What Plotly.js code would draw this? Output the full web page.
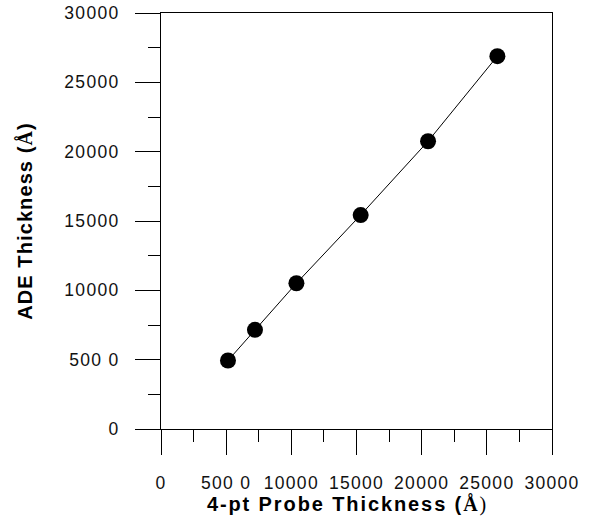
<!DOCTYPE html>
<html>
<head>
<meta charset="utf-8">
<script src="https://cdn.plot.ly/plotly-3.0.1.min.js"></script>
<style>
  html, body { margin: 0; padding: 0; background: #fff; }
  #chart { width: 590px; height: 527px; }
  .xtick text, .ytick text { letter-spacing: 1.3px; }
  .xtitle { letter-spacing: 1.9px; transform: translateX(-9px); }
  .ytitle { letter-spacing: 1.1px; }
</style>
</head>
<body>
<div id="chart"></div>
<script>
// Data
const probeThickness = [5140, 7210, 10390, 15320, 20490, 25810];
const adeThickness   = [4940, 7150, 10510, 15430, 20750, 26890];

const tickValues = [0, 5000, 10000, 15000, 20000, 25000, 30000];
const xTickLabels = ["0", "500 0", "10000", "15000", "20000", "25000", "30000"];
const yTickLabels = ["0", "500 0", "10000", "15000", "20000", "25000", "30000"];

const xTitle = "4-pt Probe Thickness (<span style=\"font-family:'Liberation Serif'\">Å</span><span style=\"font-family:'Liberation Serif';font-weight:normal\">)</span>";
const yTitle = "ADE Thickness (<span style=\"font-family:'Liberation Serif'\">Å</span>)";

const trace = {
  x: probeThickness,
  y: adeThickness,
  type: 'scatter',
  mode: 'lines+markers',
  line: { color: '#000', width: 1 },
  marker: { color: '#000', size: 16 },
  hoverinfo: 'x+y'
};

const axisCommon = {
  range: [0, 30000],
  tickmode: 'array',
  tickvals: tickValues,
  ticks: 'outside',
  ticklen: 25,
  tickwidth: 1,
  tickcolor: '#000',
  showline: true,
  linecolor: '#000',
  linewidth: 1,
  mirror: true,
  showgrid: false,
  zeroline: false,
  tickfont: { family: 'Liberation Sans, Arial, sans-serif', size: 17.5, color: '#111' },
  minor: { dtick: 2500, ticks: 'outside', ticklen: 12, tickwidth: 1, tickcolor: '#000', showgrid: false }
};

const layout = {
  width: 590,
  height: 527,
  paper_bgcolor: '#fff',
  plot_bgcolor: '#fff',
  showlegend: false,
  margin: { l: 161, r: 38, t: 13, b: 98 },
  xaxis: Object.assign({}, axisCommon, {
    ticktext: xTickLabels,
    ticklabelstandoff: 13,
    title: { text: xTitle, font: { family: 'Liberation Sans, Arial, sans-serif', size: 20, color: '#000', weight: 'bold' }, standoff: 0 }
  }),
  yaxis: Object.assign({}, axisCommon, {
    ticktext: yTickLabels,
    ticklabelstandoff: 12,
    title: { text: yTitle, font: { family: 'Liberation Sans, Arial, sans-serif', size: 20, color: '#000', weight: 'bold' }, standoff: 26 }
  })
};

Plotly.newPlot('chart', [trace], layout, { displayModeBar: false, staticPlot: true });
</script>
</body>
</html>
